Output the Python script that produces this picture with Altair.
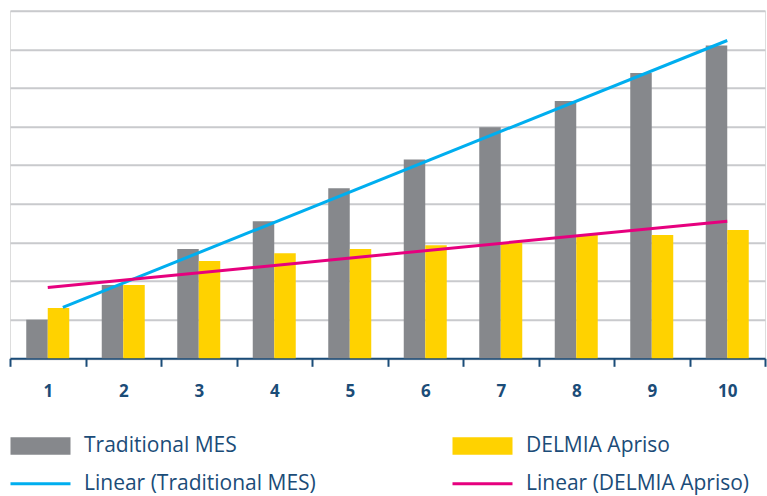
import altair as alt
import pandas as pd

categories = [1, 2, 3, 4, 5, 6, 7, 8, 9, 10]
traditional = [1.00, 1.90, 2.83, 3.55, 4.40, 5.15, 5.98, 6.66, 7.39, 8.10]
delmia = [1.30, 1.90, 2.52, 2.72, 2.83, 2.93, 3.01, 3.19, 3.19, 3.32]

# legend order (columns are filled top to bottom)
series_names = ["Traditional MES", "Linear (Traditional MES)",
                "DELMIA Apriso", "Linear (DELMIA Apriso)"]
series_colors = ["#86888c", "#00aeef", "#ffd200", "#e6007e"]
legend_shapes = ["M-2,-0.87H4V0.87H-2Z", "M-2,-0.15H4V0.15H-2Z",
                 "M-2,-0.87H4V0.87H-2Z", "M-2,-0.15H4V0.15H-2Z"]
bar_series = ["Traditional MES", "DELMIA Apriso"]

TEXT = "#1b4c78"
FONT = "Open Sans"

rows = []
for c, t, d in zip(categories, traditional, delmia):
    rows.append({"cat": c, "series": bar_series[0], "value": t})
    rows.append({"cat": c, "series": bar_series[1], "value": d})
df = pd.DataFrame(rows)

color_scale = alt.Scale(domain=series_names, range=series_colors)
shape_scale = alt.Scale(domain=series_names, range=legend_shapes)
y_enc = alt.Y("value:Q", scale=alt.Scale(domain=[0, 9], nice=False, zero=True),
              axis=alt.Axis(values=list(range(0, 10)), labels=False, ticks=False,
                            domain=False, title=None, grid=True,
                            gridColor="#c9cacd", gridWidth=2))

leg = alt.Legend(title=None, orient="none", legendX=10, legendY=424.5,
                 columns=2, columnPadding=136, rowPadding=16,
                 labelFont=FONT, labelFontSize=21, labelColor=TEXT,
                 labelOffset=43, labelLimit=0, symbolSize=400,
                 symbolStrokeWidth=0, symbolOpacity=1)

bars = alt.Chart(df).mark_bar().encode(
    x=alt.X("cat:O", scale=alt.Scale(paddingInner=0, paddingOuter=0),
            axis=alt.Axis(title=None, labelAngle=0, tickBand="extent",
                          domainColor=TEXT, domainWidth=2, tickColor=TEXT,
                          tickWidth=2, tickSize=8, labelColor=TEXT,
                          labelFont=FONT, labelFontSize=17, labelFontWeight="bold",
                          labelPadding=17, grid=False)),
    xOffset=alt.XOffset("series:N", scale=alt.Scale(domain=bar_series,
                                                      paddingOuter=0.756,
                                                      paddingInner=0)),
    y=y_enc,
    color=alt.Color("series:N", scale=color_scale, legend=leg),
)

xq = alt.X("cat:Q", scale=alt.Scale(domain=[0.5, 10.5], nice=False, zero=False),
           axis=None)

line_trad = alt.Chart(df).transform_filter(
    alt.datum.series == bar_series[0]
).transform_regression("cat", "value", extent=[1.2, 10]).mark_line(
    color=series_colors[1], strokeWidth=3
).encode(x=xq, y=y_enc)

line_del = alt.Chart(df).transform_filter(
    alt.datum.series == bar_series[1]
).transform_regression("cat", "value", extent=[1, 10]).mark_line(
    color=series_colors[3], strokeWidth=3
).encode(x=xq, y=y_enc)

legend_df = pd.DataFrame({"series": series_names})
legend_layer = alt.Chart(legend_df).transform_filter("false").mark_point(
    filled=True
).encode(
    color=alt.Color("series:N", scale=color_scale, legend=leg),
    shape=alt.Shape("series:N", scale=shape_scale, legend=leg),
)

chart = alt.layer(bars, line_trad, line_del, legend_layer).resolve_scale(
    x="independent"
).properties(
    width=755, height=347.6,
    padding={"left": 10, "top": 10.7, "right": 2, "bottom": 137.7},
    autosize=alt.AutoSizeParams(type="none"),
).configure_view(strokeWidth=0).configure(background="white")

chart.save("out.html", embed_options={"renderer": "svg", "actions": False})
